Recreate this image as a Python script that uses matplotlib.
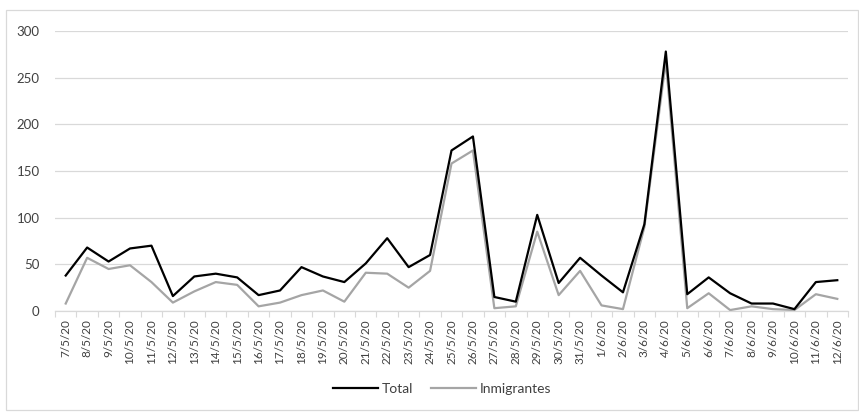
import matplotlib
matplotlib.use("Agg")
import matplotlib.pyplot as plt
from matplotlib.patches import Rectangle

dates = ["7/5/20", "8/5/20", "9/5/20", "10/5/20", "11/5/20", "12/5/20", "13/5/20",
         "14/5/20", "15/5/20", "16/5/20", "17/5/20", "18/5/20", "19/5/20", "20/5/20",
         "21/5/20", "22/5/20", "23/5/20", "24/5/20", "25/5/20", "26/5/20", "27/5/20",
         "28/5/20", "29/5/20", "30/5/20", "31/5/20", "1/6/20", "2/6/20", "3/6/20",
         "4/6/20", "5/6/20", "6/6/20", "7/6/20", "8/6/20", "9/6/20", "10/6/20",
         "11/6/20", "12/6/20"]

total = [38, 68, 53, 67, 70, 16, 37, 40, 36, 17, 22, 47, 37, 31, 51, 78, 47, 60,
         172, 187, 15, 10, 103, 30, 57, 38, 20, 93, 278, 18, 36, 19, 8, 8, 2, 31, 33]

inmigrantes = [8, 57, 45, 49, 31, 9, 21, 31, 28, 5, 9, 17, 22, 10, 41, 40, 25, 43,
               158, 172, 3, 5, 85, 17, 43, 6, 2, 90, 268, 3, 19, 1, 5, 2, 1, 18, 13]

yticks = [0, 50, 100, 150, 200, 250, 300]

plt.rcParams["font.family"] = ["Lato", "DejaVu Sans"]

fig = plt.figure(figsize=(8.59, 4.15), dpi=100)
ax = fig.add_axes([55 / 859, 1 - 311 / 415, (848 - 55) / 859, (311 - 31) / 415])

x = list(range(len(dates)))
ax.plot(x, total, color="black", lw=1.6, label="Total", zorder=3)
ax.plot(x, inmigrantes, color="#a5a5a5", lw=1.6, label="Inmigrantes", zorder=2)

ax.set_xlim(-0.5, len(dates) - 0.5)
ax.set_ylim(0, 300)
ax.set_yticks(yticks)
ax.set_yticklabels([str(v) for v in yticks], fontsize=9.5, color="#404040")
ax.tick_params(axis="y", length=0, pad=11)

ax.set_xticks(x)
ax.set_xticklabels(dates, rotation=90, fontsize=8.5, color="#404040")
ax.set_xticks([i - 0.5 for i in range(len(dates) + 1)], minor=True)
ax.tick_params(axis="x", which="major", length=0, pad=6)
ax.tick_params(axis="x", which="minor", length=4, color="#d9d9d9", width=0.8)

ax.grid(axis="y", color="#d9d9d9", lw=0.9)
ax.set_axisbelow(True)
for side in ["top", "right", "left"]:
    ax.spines[side].set_visible(False)
ax.spines["bottom"].set_color("#d9d9d9")
ax.spines["bottom"].set_linewidth(0.9)

leg = fig.legend(loc="center", bbox_to_anchor=(0.515, 1 - 389 / 415), ncol=2,
                 frameon=False, fontsize=10, handlelength=3.2, columnspacing=1.3,
                 handletextpad=0.3)
for t in leg.get_texts():
    t.set_color("#404040")

fig.patches.append(Rectangle((6 / 859, 1 - 410 / 415), (858 - 6) / 859, (410 - 10) / 415,
                             transform=fig.transFigure, fill=False,
                             edgecolor="#d9d9d9", lw=0.9))

fig.savefig("out.png", dpi=100, facecolor="white")
